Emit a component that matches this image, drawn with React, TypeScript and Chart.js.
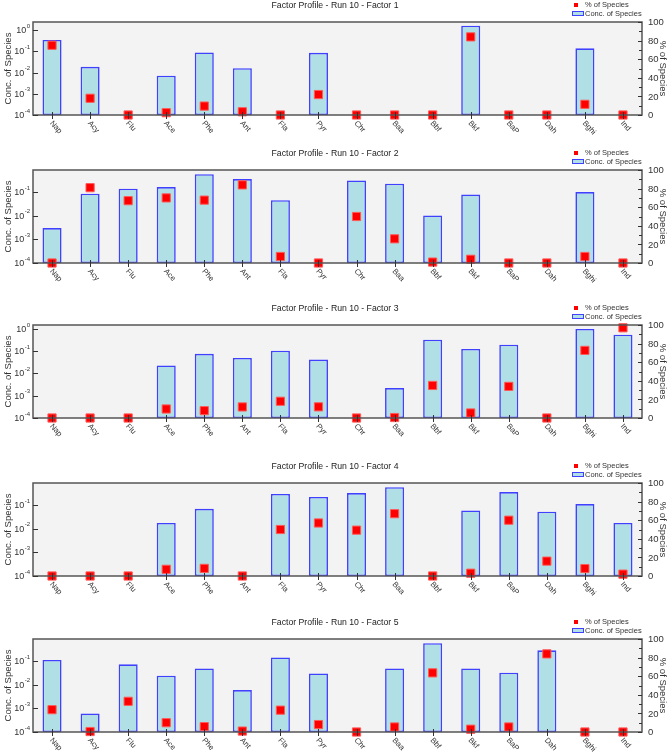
import React, { useEffect, useRef } from "react";
import { Chart, registerables } from "chart.js";

Chart.register(...registerables);

// ---------- data ----------
const SPECIES = ["Nap", "Acy", "Flu", "Ace", "Phe", "Ant", "Fla", "Pyr", "Chr", "Baa", "Bbf", "Bkf", "BaP", "Dah", "Bghi", "Ind"];

const CONC_F1 = [0.34, 0.0186, null, 0.0071, 0.089, 0.016, null, 0.085, null, null, null, 1.6, null, null, 0.138, null];
const PCT_F1 = [75, 18, 0, 2.5, 9.6, 3.5, 0, 22, 0, 0, 0, 84, 0, 0, 11.5, 0];

const CONC_F2 = [0.003, 0.085, 0.138, 0.162, 0.57, 0.355, 0.045, null, 0.31, 0.224, 0.0102, 0.078, null, null, 0.1, null];
const PCT_F2 = [0, 81, 67, 70, 67.6, 84, 7, 0, 50, 26, 1, 4, 0, 0, 7, 0];

const CONC_F3 = [null, null, null, 0.023, 0.076, 0.05, 0.105, 0.042, null, 0.0022, 0.33, 0.126, 0.195, null, 1.0, 0.55];
const PCT_F3 = [0, 0, 0, 9.7, 7.9, 11.9, 18, 12, 0, 0.5, 35, 5.4, 34, 0, 72.7, 97];

const CONC_F4 = [null, null, null, 0.0174, 0.069, null, 0.295, 0.22, 0.32, 0.57, null, 0.059, 0.355, 0.052, 0.11, 0.0174];
const PCT_F4 = [0, 0, 0, 7.2, 8.2, 0, 50, 57, 49.3, 67, 0, 3, 60, 16, 8, 2];

const CONC_F5 = [0.11, 0.0006, 0.072, 0.0236, 0.048, 0.0059, 0.139, 0.0296, null, 0.048, 0.56, 0.048, 0.032, 0.28, null, null];
const PCT_F5 = [24, 0.5, 33, 10, 5.8, 1, 23.5, 8, 0, 5.4, 63.6, 3, 5.4, 84, 0, 0];

const TITLES = [
  "Factor Profile - Run 10 - Factor 1",
  "Factor Profile - Run 10 - Factor 2",
  "Factor Profile - Run 10 - Factor 3",
  "Factor Profile - Run 10 - Factor 4",
  "Factor Profile - Run 10 - Factor 5",
];

const PCT_MAJOR = [0, 20, 40, 60, 80, 100];
const PCT_MINOR = [10, 30, 50, 70, 90];
const LOG_MIN = 1e-4;

// ---------- layout / style ----------
const PANEL_TOPS = [0, 148, 303, 461, 617];
const PANEL_HEIGHTS = [148, 155, 158, 156, 139];
const PLOT_TOP = 22;
const PLOT_BOTTOM = 115;
const WIDTH = 670;

const FONT = '"Liberation Sans", Arial, sans-serif';
const BAR_FILL = "#b0e0e6";
const BAR_EDGE = "#4040ff";
const SQ_FILL = "#ff0000";
const SQ_EDGE = "#ff5a5a";
const TEXT = "#333333";

const decor = {
  id: "decor",
  beforeDraw(chart: any) {
    const { ctx, chartArea: a } = chart;
    ctx.save();
    ctx.fillStyle = "#f3f3f3";
    ctx.fillRect(a.left, a.top, a.right - a.left, a.bottom - a.top);
    ctx.restore();
  },
  afterDraw(chart: any) {
    const o = chart.options.plugins.decor;
    const { ctx, chartArea: a, scales } = chart;
    const xs = scales.x;
    const yl = scales.y;
    const yr = scales.y1;
    ctx.save();

    // frame
    ctx.strokeStyle = "#555555";
    ctx.lineWidth = 1.5;
    ctx.strokeRect(a.left, a.top, a.right - a.left, a.bottom - a.top);

    // ticks
    ctx.lineWidth = 1;
    ctx.strokeStyle = "#333333";
    ctx.beginPath();
    for (let i = 0; i < SPECIES.length; i++) {
      const x = Math.round(xs.getPixelForValue(i)) + 0.5;
      ctx.moveTo(x, a.bottom - 3);
      ctx.lineTo(x, a.bottom + 4);
    }
    const emax = Math.floor(Math.log10(yl.max) + 1e-9);
    for (let e = -4; e <= emax; e++) {
      const y = Math.round(yl.getPixelForValue(Math.pow(10, e))) + 0.5;
      ctx.moveTo(a.left, y);
      ctx.lineTo(a.left + 5, y);
    }
    for (const v of PCT_MAJOR) {
      const y = Math.round(yr.getPixelForValue(v)) + 0.5;
      ctx.moveTo(a.right, y);
      ctx.lineTo(a.right - 4, y);
    }
    for (const v of PCT_MINOR) {
      const y = Math.round(yr.getPixelForValue(v)) + 0.5;
      ctx.moveTo(a.right, y);
      ctx.lineTo(a.right - 3, y);
    }
    ctx.stroke();

    ctx.fillStyle = TEXT;

    // x labels
    ctx.font = `7.8px ${FONT}`;
    ctx.textAlign = "left";
    ctx.textBaseline = "middle";
    SPECIES.forEach((s, i) => {
      const x = xs.getPixelForValue(i);
      ctx.save();
      ctx.translate(x - 1, a.bottom + 7);
      ctx.rotate((48 * Math.PI) / 180);
      ctx.fillText(s, 0, 0);
      ctx.restore();
    });

    // left log labels
    ctx.textAlign = "right";
    for (let e = -4; e <= emax; e++) {
      const y = yl.getPixelForValue(Math.pow(10, e));
      const ex = String(e);
      ctx.font = `6px ${FONT}`;
      const ew = ctx.measureText(ex).width;
      ctx.fillText(ex, a.left - 3, y - 4);
      ctx.font = `9px ${FONT}`;
      ctx.fillText("10", a.left - 3 - ew - 0.5, y + 0.5);
    }

    // right labels
    ctx.textAlign = "left";
    ctx.font = `9.5px ${FONT}`;
    for (const v of PCT_MAJOR) {
      const y = yr.getPixelForValue(v);
      ctx.fillText(String(v), a.right + 6, y + 0.5);
    }

    // axis titles
    const mid = (a.top + a.bottom) / 2;
    ctx.font = `9.5px ${FONT}`;
    ctx.textAlign = "center";
    ctx.save();
    ctx.translate(8, mid);
    ctx.rotate(-Math.PI / 2);
    ctx.fillText("Conc. of Species", 0, 0);
    ctx.restore();
    ctx.save();
    ctx.translate(663, mid);
    ctx.rotate(Math.PI / 2);
    ctx.fillText("% of Species", 0, 0);
    ctx.restore();

    // title
    ctx.fillStyle = "#222222";
    ctx.font = `8.7px ${FONT}`;
    ctx.fillText(o.title, chart.width / 2, a.top - 16.5);

    // legend
    ctx.fillStyle = SQ_FILL;
    ctx.fillRect(a.right - 68, a.top - 19, 4, 4);
    ctx.fillStyle = BAR_FILL;
    ctx.fillRect(a.right - 70, a.top - 10.5, 11, 4);
    ctx.strokeStyle = BAR_EDGE;
    ctx.lineWidth = 1;
    ctx.strokeRect(a.right - 69.5, a.top - 10.5, 11, 4);
    ctx.fillStyle = TEXT;
    ctx.font = `7.5px ${FONT}`;
    ctx.textAlign = "left";
    ctx.fillText("% of Species", a.right - 57, a.top - 17);
    ctx.fillText("Conc. of Species", a.right - 57, a.top - 8.5);

    ctx.restore();
  },
};

function Panel(props: { conc: (number | null)[]; pct: number[]; title: string; top: number; height: number }) {
  const ref = useRef<HTMLCanvasElement | null>(null);
  useEffect(() => {
    if (!ref.current) return;
    const vals = props.conc.filter((v) => v !== null) as number[];
    const ymax = Math.max(...vals) * 1.5;
    const h = props.height;
    const chart = new Chart(ref.current, {
      type: "bar",
      data: {
        labels: SPECIES,
        datasets: [
          {
            type: "line",
            label: "% of Species",
            data: props.pct,
            yAxisID: "y1",
            showLine: false,
            pointStyle: "rect",
            pointRadius: 5.8,
            pointBackgroundColor: SQ_FILL,
            pointBorderColor: SQ_EDGE,
            pointBorderWidth: 1,
            clip: false,
            order: 0,
          } as any,
          {
            type: "bar",
            label: "Conc. of Species",
            data: props.conc as any,
            yAxisID: "y",
            backgroundColor: BAR_FILL,
            borderColor: BAR_EDGE,
            borderWidth: 1.6,
            borderSkipped: false,
            barPercentage: 0.5,
            categoryPercentage: 1,
            order: 1,
          } as any,
        ],
      },
      options: {
        responsive: false,
        animation: false,
        devicePixelRatio: 1,
        layout: { padding: { top: PLOT_TOP, left: 0, right: 0, bottom: 0 } },
        plugins: {
          legend: { display: false },
          title: { display: false },
          tooltip: { enabled: false },
          decor: { title: props.title },
        } as any,
        scales: {
          x: {
            type: "category",
            offset: true,
            grid: { display: false },
            border: { display: false },
            ticks: { display: false },
            afterFit: (s: any) => {
              s.height = h - PLOT_BOTTOM;
            },
          },
          y: {
            type: "logarithmic",
            position: "left",
            min: LOG_MIN,
            max: ymax,
            grid: { display: false },
            border: { display: false },
            ticks: { display: false },
            afterFit: (s: any) => {
              s.width = 33;
            },
          },
          y1: {
            type: "linear",
            position: "right",
            min: 0,
            max: 100,
            grid: { display: false },
            border: { display: false },
            ticks: { display: false },
            afterFit: (s: any) => {
              s.width = 28;
            },
          },
        },
      } as any,
      plugins: [decor as any],
    });
    return () => chart.destroy();
  }, []);
  return (
    <div style={{ position: "absolute", left: 0, top: props.top, width: WIDTH, height: props.height }}>
      <canvas ref={ref} width={WIDTH} height={props.height} style={{ display: "block" }} />
    </div>
  );
}

export default function App() {
  const concs = [CONC_F1, CONC_F2, CONC_F3, CONC_F4, CONC_F5];
  const pcts = [PCT_F1, PCT_F2, PCT_F3, PCT_F4, PCT_F5];
  return (
    <div style={{ position: "absolute", left: 0, top: 0, width: WIDTH, height: 756, background: "#ffffff", overflow: "hidden" }}>
      {concs.map((c, i) => (
        <Panel key={i} conc={c} pct={pcts[i]} title={TITLES[i]} top={PANEL_TOPS[i]} height={PANEL_HEIGHTS[i]} />
      ))}
    </div>
  );
}
